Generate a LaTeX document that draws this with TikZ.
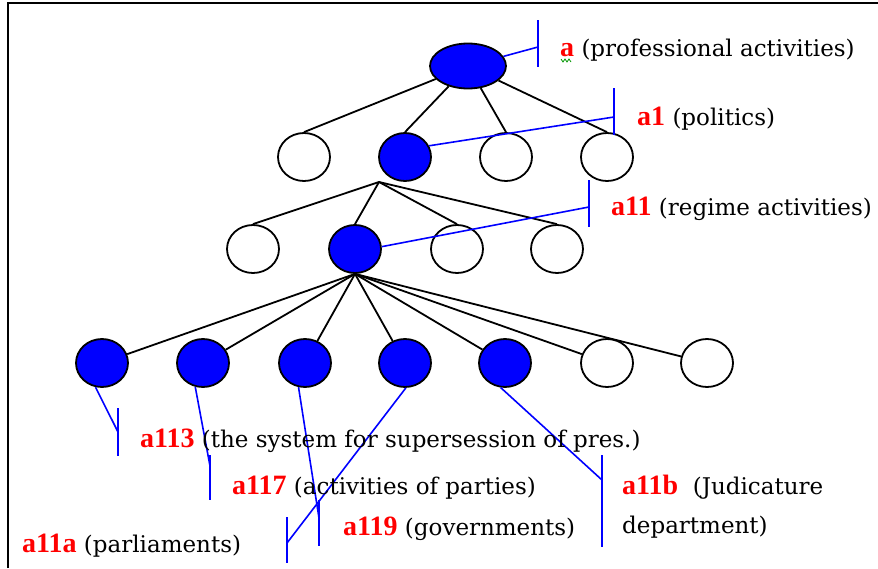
\documentclass[tikz,border=0pt]{standalone}
\usepackage{fontspec}
\setmainfont{DejaVu Serif}
\newfontfamily\labfont{Liberation Serif}
\usetikzlibrary{shapes.geometric}
\definecolor{pblue}{RGB}{0,0,255}
\definecolor{pred}{RGB}{255,0,0}
\definecolor{sgreen}{RGB}{0,150,0}
\newcommand{\lbl}[1]{{\labfont\bfseries\fontsize{28}{30}\selectfont\textcolor{pred}{#1}}}
\begin{document}
\begin{tikzpicture}[x=1pt,y=-1pt,
  nd/.style={draw=black, line width=1.8pt, ellipse, minimum width=52pt, minimum height=48pt, inner sep=0pt},
  on/.style={nd, fill=pblue},
  off/.style={nd, fill=white},
  edge/.style={draw=black, line width=1.8pt},
  ptr/.style={draw=pblue, line width=1.6pt},
  txt/.style={anchor=base west, inner sep=0pt, font=\fontsize{23}{26}\selectfont}]
\useasboundingbox (0,0) rectangle (878,568);
\fill[white] (0,0) rectangle (878,568);
\draw[line width=1.8pt] (8,568) -- (8,3) -- (878,3);
% tree nodes
\node[on, minimum width=76pt, minimum height=45pt] (r) at (468,66) {};
\node[off] (b1) at (304,157) {};
\node[on]  (b2) at (405,157) {};
\node[off] (b3) at (506,157) {};
\node[off] (b4) at (607,157) {};
\node[off] (c1) at (253,249) {};
\node[on]  (c2) at (355,249) {};
\node[off] (c3) at (457,249) {};
\node[off] (c4) at (557,249) {};
\node[on]  (d1) at (102,363) {};
\node[on]  (d2) at (203,363) {};
\node[on]  (d3) at (305,363) {};
\node[on]  (d4) at (405,363) {};
\node[on]  (d5) at (505,363) {};
\node[off] (d6) at (607,363) {};
\node[off] (d7) at (707,363) {};
\coordinate (h2) at (379,182);
% edges
\foreach \n in {b1,b2,b3,b4} \draw[edge] (r) -- (\n.north);
\foreach \n in {c1,c2,c3,c4} \draw[edge] (h2) -- (\n.north);
\foreach \n in {d1,d2,d3,d4,d5,d6,d7} \draw[edge] (c2.south) -- (\n);
% label pointers
\coordinate (tA) at (538,47);
\coordinate (tA1) at (614,117);
\coordinate (tA11) at (589,207);
\coordinate (tA113) at (118,432);
\coordinate (tA117) at (210,466);
\coordinate (tA119) at (319,518);
\coordinate (tA11a) at (287,543);
\coordinate (tA11b) at (602,480);
\draw[ptr] (r) -- (tA);
\draw[ptr] (538,20) -- (538,67);
\draw[ptr] (b2.25) -- (tA1);
\draw[ptr] (614,88) -- (614,135);
\draw[ptr] (c2.5) -- (tA11);
\draw[ptr] (589,180) -- (589,227);
\draw[ptr] (d1.-105) -- (tA113);
\draw[ptr] (118,408) -- (118,456);
\draw[ptr] (d2.-108) -- (tA117);
\draw[ptr] (210,455) -- (210,500);
\draw[ptr] (d3.-105) -- (tA119);
\draw[ptr] (319,500) -- (319,546);
\draw[ptr] (d4.-88) -- (tA11a);
\draw[ptr] (287,517) -- (287,563);
\draw[ptr] (d5.-100) -- (tA11b);
\draw[ptr] (602,455) -- (602,547);
% texts
\node[txt] (la) at (560,56) {\lbl{a} (professional activities)};
\draw[sgreen, line width=0.8pt] (561,59) -- (563,62) -- (565,59) -- (567,62) -- (569,59) -- (571,62);
\node[txt] (la1) at (637,125) {\lbl{a1} (politics)};
\node[txt] (la11) at (611,215) {\lbl{a11} (regime activities)};
\node[txt] (la113) at (140,447) {\lbl{a113} (the system for supersession of pres.)};
\node[txt] (la117) at (232,494) {\lbl{a117} (activities of parties)};
\node[txt] (la119) at (343,535) {\lbl{a119} (governments)};
\node[txt] (la11a) at (22,552) {\lbl{a11a} (parliaments)};
\node[txt] (la11b) at (622,494) {\lbl{a11b}\ \ (Judicature};
\node[txt] (la11b2) at (622,533) {department)};
\end{tikzpicture}
\end{document}
